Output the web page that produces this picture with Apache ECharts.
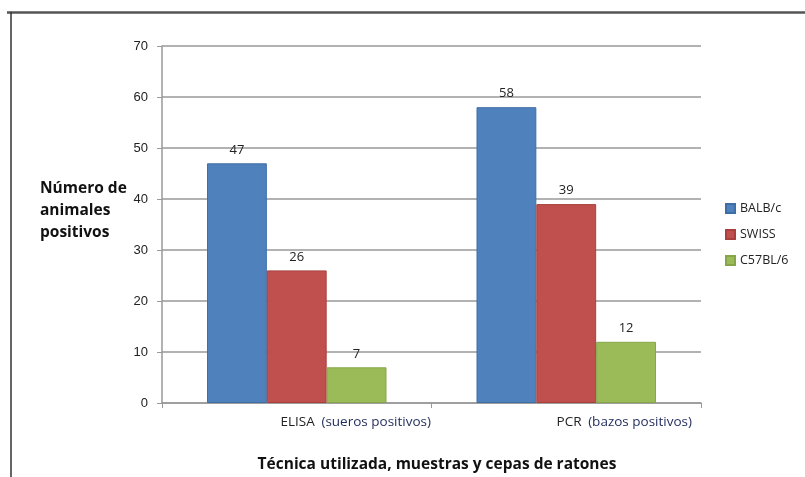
<!DOCTYPE html>
<html>
<head>
<meta charset="utf-8">
<script src="https://cdn.jsdelivr.net/npm/echarts@6/dist/echarts.min.js"></script>
<style>html,body{margin:0;padding:0;background:#fff;}#c{width:805px;height:477px;}</style>
</head>
<body>
<div id="c"></div>
<script>
const categories = [['ELISA', '(sueros positivos)'], ['PCR', '(bazos positivos)']];
const seriesNames = ['BALB/c', 'SWISS', 'C57BL/6'];
const balbc = [47, 58];
const swiss = [26, 39];
const c57 = [7, 12];
const yTicks = [0, 10, 20, 30, 40, 50, 60, 70];
const colors = ['#4F81BD', '#C0504D', '#9BBB59'];
const borders = ['#3E6EA6', '#A9403D', '#86A549'];

const chart = echarts.init(document.getElementById('c'));
const values = [balbc, swiss, c57];
const font = '"Open Sans", Lato, sans-serif';

chart.setOption({
  animation: false,
  backgroundColor: '#fff',
  grid: { left: 162, right: 104, top: 46, bottom: 74 },
  title: [
    { text: 'Número de\nanimales\npositivos', left: 35, top: 173,
      textStyle: { fontFamily: font, fontSize: 15.5, fontWeight: 'bold', color: '#111', lineHeight: 22 } },
    { text: 'Técnica utilizada, muestras y cepas de ratones', left: 432, textAlign: 'center', top: 452,
      textStyle: { fontFamily: font, fontSize: 15.5, fontWeight: 'bold', color: '#111' } }
  ],
  legend: {
    orient: 'vertical', left: 720, top: 197, itemGap: 13,
    itemWidth: 9, itemHeight: 9, icon: 'rect',
    textStyle: { fontFamily: font, fontSize: 12.5, color: '#222' },
    data: seriesNames
  },
  xAxis: {
    type: 'category',
    data: categories.map(c => c[0] + ' ' + c[1]),
    axisLine: { lineStyle: { color: '#999', width: 1.5 } },
    axisTick: { show: true, length: 5, lineStyle: { color: '#999' } },
    axisLabel: {
      margin: 12,
      formatter: function (v, i) {
        const c = categories[i];
        return '{s' + i + '| }{a|' + c[0] + '}  {b|' + c[1] + '}';
      },
      rich: {
        s0: { width: 118 },
        s1: { width: 116 },
        a: { fontFamily: font, fontSize: 13.5, color: '#222' },
        b: { fontFamily: font, fontSize: 13.5, color: '#1f2a5c' }
      }
    }
  },
  yAxis: {
    type: 'value', min: 0, max: 70, interval: 10,
    axisLine: { show: true, lineStyle: { color: '#999', width: 1.5 } },
    axisTick: { show: true, length: 5, lineStyle: { color: '#999' } },
    splitLine: { lineStyle: { color: '#999', width: 1.5 } },
    axisLabel: {
      margin: 14, fontFamily: 'Arial, "Liberation Sans", sans-serif', fontSize: 13, color: '#222',
      formatter: function (v) { return yTicks.indexOf(v) >= 0 ? String(v) : ''; }
    }
  },
  series: seriesNames.map((n, k) => ({
    name: n, type: 'bar', data: values[k],
    barGap: '0%', barCategoryGap: '33.4%',
    itemStyle: { color: colors[k], borderColor: borders[k], borderWidth: 1 },
    label: { show: true, position: 'top', distance: 7, fontFamily: font, fontSize: 13, color: '#222' }
  })),
  graphic: [
    { type: 'line', shape: { x1: 7, y1: 12.5, x2: 805, y2: 12.5 }, style: { stroke: '#555', lineWidth: 2.5 } },
    { type: 'line', shape: { x1: 11, y1: 12, x2: 11, y2: 477 }, style: { stroke: '#333', lineWidth: 1.5 } }
  ]
});
</script>
</body>
</html>
